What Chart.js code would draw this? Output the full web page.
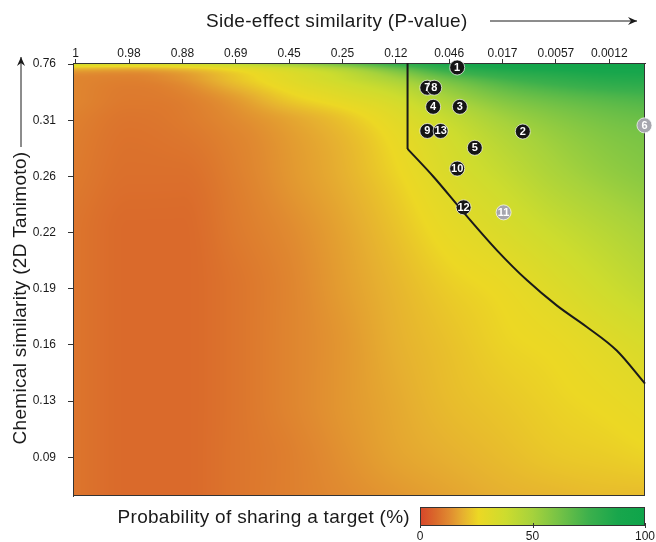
<!DOCTYPE html>
<html>
<head>
<meta charset="utf-8">
<script src="https://cdn.jsdelivr.net/npm/chart.js@4.4.1/dist/chart.umd.min.js"></script>
<style>
  html, body { margin: 0; padding: 0; background: #fff; }
  #wrap { width: 656px; height: 542px; }
</style>
</head>
<body>
<div id="wrap"><canvas id="chart" width="656" height="542"></canvas></div>
<script>
// tick labels (axes are drawn in tick-index units, the spacing is even in the picture)
const xTickLabels = ['1', '0.98', '0.88', '0.69', '0.45', '0.25', '0.12', '0.046', '0.017', '0.0057', '0.0012'];
const yTickLabels = ['0.09', '0.13', '0.16', '0.19', '0.22', '0.26', '0.31', '0.76'];

// probability surface (%), on a coarse grid
const gridX = [0, 1, 2, 3, 4, 5, 6, 7, 8, 9, 10, 10.67];
const gridY = [-0.69, 0, 1, 2, 3, 4, 5, 6, 6.4, 6.7, 6.9, 7.02];
const probBottom = [9, 7, 7, 9, 11, 13, 15, 17, 19, 20, 21, 21];
const prob009 = [9, 7, 7, 9, 11, 14, 17, 19, 21, 23, 24, 25];
const prob013 = [9, 7, 7, 9, 12, 15, 18, 21, 23, 25, 27, 29];
const prob016 = [9, 7, 7, 9, 12, 15, 19, 22, 25, 27, 31, 34];
const prob019 = [9, 7, 7, 9, 12, 16, 20, 24, 27, 32, 38, 42];
const prob022 = [9, 7, 7, 10, 13, 17, 22, 28, 33, 39, 45, 49];
const prob026 = [10, 8, 8, 11, 15, 19, 25, 33, 40, 48, 54, 57];
const prob031 = [11, 9, 10, 13, 17, 22, 30, 40, 50, 57, 62, 64];
const prob064 = [12, 10, 11, 16, 24, 30, 37, 50, 60, 66, 70, 72];
const prob067 = [12, 11, 14, 22, 30, 38, 48, 62, 72, 78, 82, 83];
const prob069 = [18, 17, 20, 27, 35, 46, 62, 78, 85, 88, 90, 90];
const prob076 = [40, 38, 40, 45, 55, 66, 80, 90, 95, 97, 97, 96];
const probRows = [probBottom, prob009, prob013, prob016, prob019, prob022, prob026, prob031, prob064, prob067, prob069, prob076];

// colour scale of the legend bar
const cmapStops = [0, 7, 13, 19, 26, 38, 50, 62, 75, 88, 100];
const cmapColors = ['#d8452a', '#da6a2b', '#e08a30', '#e6b030', '#ecd824', '#cddc2e', '#a6d23c', '#74c246', '#3cb04c', '#18a64c', '#0ea44a'];
const cbarTicks = [0, 50, 100];

// boundary line: straight drop, then a curve
const lineX = [6.22, 6.22, 6.71, 7.27, 7.90, 8.46, 9.02, 9.58, 10.14, 10.67];
const lineY = [7.02, 5.49, 4.99, 4.36, 3.68, 3.15, 2.70, 2.32, 1.90, 1.31];

// drug pairs
const blackIds = ['1', '7', '8', '4', '3', '9', '13', '2', '5', '10', '12'];
const blackX = [7.15, 6.59, 6.72, 6.70, 7.20, 6.59, 6.84, 8.38, 7.48, 7.15, 7.27];
const blackY = [6.94, 6.58, 6.58, 6.24, 6.24, 5.81, 5.81, 5.80, 5.51, 5.14, 4.45];
const greyIds = ['6', '11'];
const greyX = [10.66, 8.02];
const greyY = [5.91, 4.36];

const FONT = '"Liberation Sans", Arial, sans-serif';

function hexRgb(h) {
  return [parseInt(h.slice(1, 3), 16), parseInt(h.slice(3, 5), 16), parseInt(h.slice(5, 7), 16)];
}
const cmapRgb = cmapColors.map(hexRgb);

function colorFor(p) {
  if (p <= cmapStops[0]) return cmapRgb[0];
  for (let i = 1; i < cmapStops.length; i++) {
    if (p <= cmapStops[i]) {
      const t = (p - cmapStops[i - 1]) / (cmapStops[i] - cmapStops[i - 1]);
      const a = cmapRgb[i - 1], b = cmapRgb[i];
      return [a[0] + (b[0] - a[0]) * t, a[1] + (b[1] - a[1]) * t, a[2] + (b[2] - a[2]) * t];
    }
  }
  return cmapRgb[cmapRgb.length - 1];
}

// monotone cubic through grid values, so the shading has no creases
function makeMono(xs, ys) {
  const n = xs.length;
  const d = [], m = new Array(n);
  for (let i = 0; i < n - 1; i++) d.push((ys[i + 1] - ys[i]) / (xs[i + 1] - xs[i]));
  m[0] = d[0];
  m[n - 1] = d[n - 2];
  for (let i = 1; i < n - 1; i++) m[i] = d[i - 1] * d[i] <= 0 ? 0 : (d[i - 1] + d[i]) / 2;
  for (let i = 0; i < n - 1; i++) {
    if (d[i] === 0) { m[i] = 0; m[i + 1] = 0; continue; }
    const a = m[i] / d[i], b = m[i + 1] / d[i], s = a * a + b * b;
    if (s > 9) { const t = 3 / Math.sqrt(s); m[i] = t * a * d[i]; m[i + 1] = t * b * d[i]; }
  }
  return (v) => {
    if (v <= xs[0]) return ys[0];
    if (v >= xs[n - 1]) return ys[n - 1];
    let i = 0;
    while (v > xs[i + 1]) i++;
    const h = xs[i + 1] - xs[i], t = (v - xs[i]) / h, t2 = t * t, t3 = t2 * t;
    return (2 * t3 - 3 * t2 + 1) * ys[i] + (t3 - 2 * t2 + t) * h * m[i] +
      (-2 * t3 + 3 * t2) * ys[i + 1] + (t3 - t2) * h * m[i + 1];
  };
}

const heatmap = {
  id: 'heatmap',
  beforeDatasetsDraw(chart) {
    const { ctx, chartArea: a, scales } = chart;
    const w = Math.round(a.right - a.left), h = Math.round(a.bottom - a.top);
    const off = document.createElement('canvas');
    off.width = w; off.height = h;
    const octx = off.getContext('2d');
    const img = octx.createImageData(w, h);
    const rowFns = probRows.map((r) => makeMono(gridX, r));
    const yVals = [];
    for (let j = 0; j < h; j++) yVals.push(scales.y.getValueForPixel(a.top + j + 0.5));
    for (let i = 0; i < w; i++) {
      const xv = scales.x.getValueForPixel(a.left + i + 0.5);
      const colFn = makeMono(gridY, rowFns.map((f) => f(xv)));
      for (let j = 0; j < h; j++) {
        const c = colorFor(colFn(yVals[j]));
        const k = (j * w + i) * 4;
        img.data[k] = c[0]; img.data[k + 1] = c[1]; img.data[k + 2] = c[2]; img.data[k + 3] = 255;
      }
    }
    octx.putImageData(img, 0, 0);
    ctx.save();
    ctx.drawImage(off, a.left, a.top, a.right - a.left, a.bottom - a.top);
    ctx.strokeStyle = '#333';
    ctx.lineWidth = 1;
    ctx.strokeRect(a.left + 0.5, a.top + 0.5, a.right - a.left - 1, a.bottom - a.top - 1);
    ctx.restore();
  }
};

function arrow(ctx, x1, y1, x2, y2) {
  const ang = Math.atan2(y2 - y1, x2 - x1);
  ctx.beginPath();
  ctx.moveTo(x1, y1);
  ctx.lineTo(x2, y2);
  ctx.stroke();
  ctx.beginPath();
  ctx.moveTo(x2, y2);
  ctx.lineTo(x2 - 9 * Math.cos(ang) + 4 * Math.sin(ang), y2 - 9 * Math.sin(ang) - 4 * Math.cos(ang));
  ctx.lineTo(x2 - 6 * Math.cos(ang), y2 - 6 * Math.sin(ang));
  ctx.lineTo(x2 - 9 * Math.cos(ang) - 4 * Math.sin(ang), y2 - 9 * Math.sin(ang) + 4 * Math.cos(ang));
  ctx.closePath();
  ctx.fill();
}

const decorations = {
  id: 'decorations',
  afterDatasetsDraw(chart) {
    // numbers on the drug-pair circles
    const ctx = chart.ctx;
    ctx.save();
    ctx.font = 'bold 11px ' + FONT;
    ctx.fillStyle = '#fff';
    ctx.textAlign = 'center';
    ctx.textBaseline = 'middle';
    [[2, blackIds], [3, greyIds]].forEach(([di, ids]) => {
      chart.getDatasetMeta(di).data.forEach((pt, i) => {
        ctx.fillText(ids[i], pt.x, pt.y + 0.5);
      });
    });
    ctx.restore();
  },
  afterDraw(chart) {
    const ctx = chart.ctx;
    const a = chart.chartArea;
    ctx.save();
    ctx.fillStyle = '#1a1a1a';
    ctx.strokeStyle = '#1a1a1a';
    ctx.lineWidth = 1;
    ctx.font = '19px ' + FONT;
    ctx.letterSpacing = '0.3px';
    ctx.textBaseline = 'middle';
    ctx.textAlign = 'left';
    ctx.fillText('Side-effect similarity (P-value)', 206, 22);
    arrow(ctx, 490, 21, 637, 21);

    ctx.save();
    ctx.translate(21, 298);
    ctx.rotate(-Math.PI / 2);
    ctx.textAlign = 'center';
    ctx.fillText('Chemical similarity (2D Tanimoto)', 0, 0);
    ctx.restore();
    arrow(ctx, 21, 147, 21, 57);

    // colour legend
    ctx.textAlign = 'right';
    ctx.fillText('Probability of sharing a target (%)', 410, 518);
    const bx0 = 420, bx1 = a.right, by0 = 507, by1 = 526;
    const grad = ctx.createLinearGradient(bx0, 0, bx1, 0);
    cmapStops.forEach((s, i) => grad.addColorStop(s / 100, cmapColors[i]));
    ctx.fillStyle = grad;
    ctx.fillRect(bx0, by0, bx1 - bx0, by1 - by0);
    ctx.strokeStyle = '#333';
    ctx.strokeRect(bx0 + 0.5, by0 + 0.5, bx1 - bx0 - 1, by1 - by0 - 1);
    ctx.fillStyle = '#1a1a1a';
    ctx.letterSpacing = '0px';
    ctx.font = '12px ' + FONT;
    ctx.textAlign = 'center';
    cbarTicks.forEach((t) => {
      const tx = bx0 + (bx1 - bx0) * t / 100;
      ctx.beginPath();
      ctx.moveTo(Math.round(tx) + 0.5, by1 - 3);
      ctx.lineTo(Math.round(tx) + 0.5, by1 + 2);
      ctx.stroke();
      ctx.fillText(String(t), tx, 537);
    });
    ctx.restore();
  }
};

function toPoints(xs, ys) {
  return xs.map((v, i) => ({ x: v, y: ys[i] }));
}

const ctx = document.getElementById('chart');
new Chart(ctx, {
  type: 'scatter',
  data: {
    datasets: [
      {
        data: toPoints(lineX.slice(0, 2), lineY.slice(0, 2)),
        showLine: true,
        borderColor: '#1a1a1a',
        borderWidth: 2,
        pointRadius: 0,
        clip: false
      },
      {
        data: toPoints(lineX.slice(1), lineY.slice(1)),
        showLine: true,
        cubicInterpolationMode: 'monotone',
        borderColor: '#1a1a1a',
        borderWidth: 2,
        pointRadius: 0,
        clip: false
      },
      {
        data: toPoints(blackX, blackY),
        pointRadius: 7.5,
        backgroundColor: '#151515',
        borderColor: '#ffffff',
        borderWidth: 0.7,
        clip: false
      },
      {
        data: toPoints(greyX, greyY),
        pointRadius: 7.5,
        backgroundColor: '#a6a6ae',
        borderColor: '#ffffff',
        borderWidth: 0.7,
        clip: false
      }
    ]
  },
  options: {
    responsive: false,
    animation: false,
    layout: { padding: { left: 0, right: 11, top: 0, bottom: 46 } },
    plugins: { legend: { display: false }, tooltip: { enabled: false } },
    scales: {
      x: {
        type: 'linear',
        position: 'top',
        min: -0.05,
        max: 10.67,
        afterBuildTicks: (scale) => { scale.ticks = xTickLabels.map((_, i) => ({ value: i })); },
        afterFit: (scale) => { scale.height = 63; },
        ticks: {
          autoSkip: false,
          maxRotation: 0,
          padding: -2,
          color: '#1a1a1a',
          font: { family: FONT, size: 12 },
          callback: (v) => xTickLabels[v]
        },
        grid: { drawOnChartArea: false, tickLength: 4, color: '#333' },
        border: { display: true, color: '#333' }
      },
      y: {
        type: 'linear',
        min: -0.69,
        max: 7.02,
        afterBuildTicks: (scale) => { scale.ticks = yTickLabels.map((_, i) => ({ value: i })); },
        afterFit: (scale) => { scale.width = 73; },
        ticks: {
          padding: 12,
          color: '#1a1a1a',
          font: { family: FONT, size: 12 },
          callback: (v) => yTickLabels[v]
        },
        grid: { drawOnChartArea: false, tickLength: 5, color: '#333' },
        border: { display: true, color: '#333' }
      }
    }
  },
  plugins: [heatmap, decorations]
});
</script>
</body>
</html>
